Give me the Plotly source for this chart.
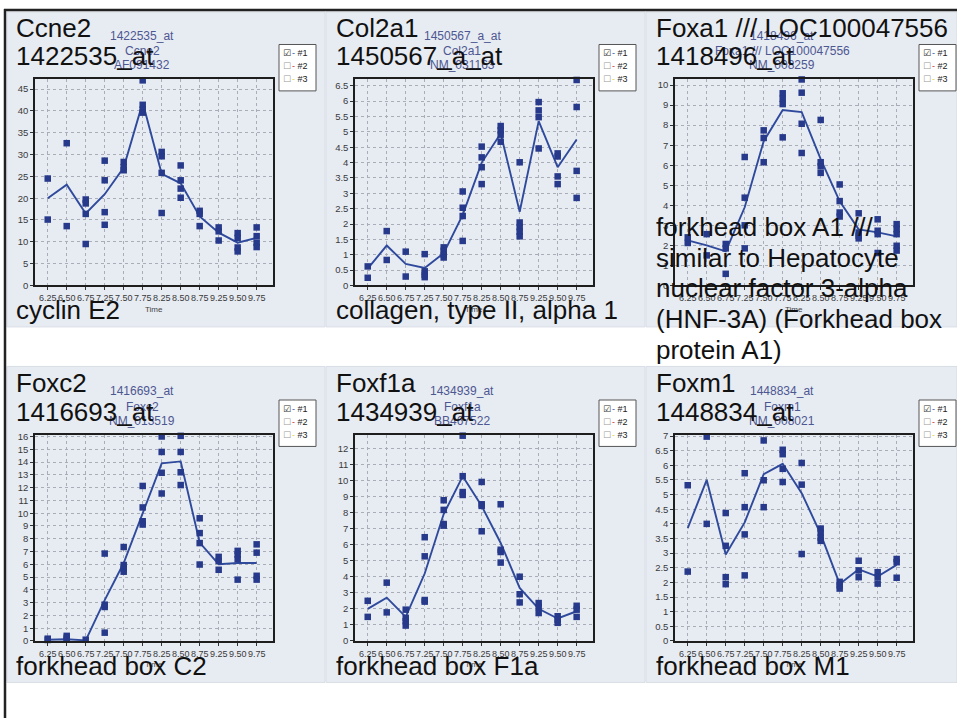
import plotly.graph_objects as go

W, H = 957, 723

times = ["6.25", "6.50", "6.75", "7.25", "7.50", "7.75", "8.25", "8.50", "8.75", "9.25", "9.50", "9.75"]

ccne2_pts = [[24.5, 15.1], [32.6, 13.6], [19.7, 18.8, 16.4, 9.5], [28.6, 24.1, 16.8, 13.9],
             [28.3, 27.1, 26.4], [47.0, 41.4, 40.3, 39.6], [30.6, 29.6, 25.8, 16.6],
             [27.5, 24.1, 22.2, 20.1], [17.1, 16.4, 13.6], [13.3, 12.4, 10.3],
             [12.0, 10.9, 8.7, 7.8], [13.3, 11.3, 9.8, 8.8]]
ccne2_line = [20.0, 23.1, 16.5, 20.9, 27.0, 41.9, 25.6, 23.4, 15.8, 12.1, 9.8, 10.9]

col2a1_pts = [[0.62, 0.25], [1.77, 0.83], [1.1, 0.29], [1.02, 0.46, 0.35, 0.27],
              [1.24, 1.13, 1.0, 0.91], [3.06, 2.53, 2.26, 1.45], [4.52, 4.17, 3.85, 3.3],
              [5.19, 5.05, 4.91, 4.68], [4.01, 2.05, 1.9, 1.75, 1.6], [5.97, 5.7, 5.48, 4.46],
              [4.3, 4.2, 3.55, 3.3], [6.69, 5.81, 3.73, 2.85]]
col2a1_line = [0.55, 1.3, 0.7, 0.57, 1.05, 2.3, 4.0, 4.95, 2.4, 5.35, 3.85, 4.75]

foxa1_pts = [[2.4, 2.12], [2.56, 1.5], [2.07, 1.85, 0.58], [6.41, 4.38, 3.0, 1.85],
             [7.74, 7.36, 6.15], [9.59, 9.32, 9.05, 7.39], [10.28, 9.62, 8.07, 6.61],
             [8.26, 6.15, 5.95, 5.62], [5.04, 4.21, 3.64, 3.44], [3.6, 2.64, 2.48, 2.35],
             [3.3, 2.73, 2.56, 1.62], [3.06, 2.81, 2.56, 1.98, 1.74]]
foxa1_line = [2.25, 2.0, 1.7, 3.9, 7.2, 8.75, 8.65, 6.3, 4.2, 2.8, 2.65, 2.45]

foxc2_pts = [[0.18, 0.08], [0.4, 0.25, 0.1], [0.1], [6.84, 2.84, 2.66, 0.65],
             [7.35, 5.94, 5.68, 5.42], [12.13, 10.45, 9.37, 9.11], [16.0, 14.79, 13.16, 11.54],
             [16.05, 14.79, 13.2, 12.2], [9.6, 8.44, 7.66, 5.98], [6.58, 6.27, 5.57],
             [7.05, 6.75, 6.4, 4.8], [7.56, 6.91, 5.1, 4.8]]
foxc2_line = [0.1, 0.13, 0.05, 3.2, 6.1, 10.0, 13.9, 14.05, 7.7, 6.0, 6.1, 6.1]

foxf1a_pts = [[2.5, 1.5], [3.63, 1.78], [1.95, 1.44, 1.23, 0.96], [6.46, 5.27, 2.55, 2.45],
              [8.76, 8.16, 7.28, 7.18], [12.78, 10.26, 9.27, 9.09], [9.9, 8.51, 8.41, 6.83],
              [8.51, 5.68, 5.54, 4.88], [4.0, 2.91, 2.4], [2.36, 2.11, 1.74],
              [1.54, 1.33, 1.13], [2.19, 1.95, 1.5]]
foxf1a_line = [2.0, 2.7, 1.5, 4.2, 7.9, 10.25, 8.4, 6.1, 3.3, 2.0, 1.4, 1.85]

foxm1_pts = [[5.32, 2.37], [6.98, 4.0], [4.37, 3.25, 2.18, 1.94], [5.73, 4.57, 3.64, 2.24],
             [6.85, 5.49, 4.57], [6.53, 6.38, 5.88, 5.43], [6.08, 5.34, 2.97],
             [3.84, 3.7, 3.53, 3.42], [2.02, 1.9, 1.79], [2.74, 2.41, 2.18],
             [2.35, 2.18, 1.96], [2.8, 2.69, 2.16]]
foxm1_line = [3.85, 5.5, 2.95, 4.05, 5.7, 6.05, 5.05, 3.65, 1.95, 2.45, 2.2, 2.6]

symbols = ["Ccne2", "Col2a1", "Foxa1 /// LOC100047556", "Foxc2", "Foxf1a", "Foxm1"]
probes = ["1422535_at", "1450567_a_at", "1418496_at", "1416693_at", "1434939_at", "1448834_at"]
accessions = ["AF091432", "NM_031163", "NM_008259", "NM_013519", "BB467522", "NM_008021"]
descriptions = [["cyclin E2"], ["collagen, type II, alpha 1"],
                ["forkhead box A1 ///", "similar to Hepatocyte", "nuclear factor 3-alpha",
                 "(HNF-3A) (Forkhead box", "protein A1)"],
                ["forkhead box C2"], ["forkhead box F1a"], ["forkhead box M1"]]
y_max = [47.3, 6.72, 10.3, 16.15, 12.85, 7.05]
y_step = [5, 0.5, 1, 1, 1, 0.5]
legend_items = ["#1", "#2", "#3"]

all_pts = [ccne2_pts, col2a1_pts, foxa1_pts, foxc2_pts, foxf1a_pts, foxm1_pts]
all_line = [ccne2_line, col2a1_line, foxa1_line, foxc2_line, foxf1a_line, foxm1_line]

MARK = "#26398a"
LINE = "#2f4a9c"
BIG = "Liberation Sans, Arial, sans-serif"
SMALL = "Liberation Sans Narrow, Arial Narrow, Liberation Sans, Arial, sans-serif"


def fx(p):
    return p / W


def fy(p):
    return 1 - p / H


fig = go.Figure()
shapes = []
annotations = []
layout_axes = {}

col_x = [(7, 325), (326, 645), (646, 957)]
row_y = [(8, 327), (367, 687)]
for r in range(2):
    for c in range(3):
        shapes.append(dict(type="rect", xref="paper", yref="paper", layer="below",
                           x0=fx(col_x[c][0]), x1=fx(col_x[c][1]),
                           y0=fy(row_y[r][1]), y1=fy(row_y[r][0]),
                           fillcolor="#e7ebf2", line=dict(color="#d9dde5", width=1)))

for i in range(6):
    c, r = i % 3, i // 3
    ox, oy = c * 320, r * 360
    n = "" if i == 0 else str(i + 1)
    xs, ys = [], []
    for t, reps in zip(times, all_pts[i]):
        for v in reps:
            xs.append(t)
            ys.append(v)
    fig.add_trace(go.Scatter(x=times, y=all_line[i], mode="lines",
                             line=dict(color=LINE, width=1.9),
                             xaxis="x" + n, yaxis="y" + n, showlegend=False, hoverinfo="skip"))
    fig.add_trace(go.Scatter(x=xs, y=ys, mode="markers",
                             marker=dict(symbol="square", size=6.5, color=MARK),
                             cliponaxis=False,
                             xaxis="x" + n, yaxis="y" + n, showlegend=False))
    layout_axes["xaxis" + n] = dict(
        domain=[fx(ox + 35), fx(ox + 273)], anchor="y" + n, type="category",
        categoryorder="array", categoryarray=times, range=[-0.67, 11.86],
        tickmode="array", tickvals=times, ticktext=times, tickangle=0,
        showgrid=True, gridcolor="#a9adb8", griddash="dot", gridwidth=1,
        showline=True, linecolor="#1e1e1e", linewidth=1.5, mirror=True,
        ticks="outside", ticklen=3, tickcolor="#333",
        tickfont=dict(family=SMALL, size=9, color="#3a3a3a"), zeroline=False)
    layout_axes["yaxis" + n] = dict(
        domain=[fy(oy + 285), fy(oy + 76)], anchor="x" + n, range=[0, y_max[i]],
        dtick=y_step[i], tick0=0,
        showgrid=True, gridcolor="#a9adb8", griddash="dot", gridwidth=1,
        showline=True, linecolor="#1e1e1e", linewidth=1.5, mirror=True,
        ticks="outside", ticklen=3, tickcolor="#333",
        tickfont=dict(family=SMALL, size=9.5, color="#3a3a3a"), zeroline=False)

    # "Time" axis label
    annotations.append(dict(xref="paper", yref="paper", x=fx(ox + 154), y=fy(oy + 309),
                            text="Time", showarrow=False, xanchor="center", yanchor="middle",
                            font=dict(family=SMALL, size=8, color="#444")))
    # small chart title (blue-grey)
    for k, (txt, yy) in enumerate(zip([probes[i], symbols[i], accessions[i]], [32, 48, 62])):
        annotations.append(dict(xref="paper", yref="paper", x=fx(ox + 142), y=fy(oy + yy),
                                text=txt, showarrow=False, xanchor="center", yanchor="middle",
                                font=dict(family=SMALL, size=12, color="#4d5791")))
    # legend box
    shapes.append(dict(type="rect", xref="paper", yref="paper", layer="above",
                       x0=fx(ox + 279), x1=fx(ox + 316), y0=fy(oy + 88), y1=fy(oy + 41),
                       fillcolor="white", line=dict(color="#555", width=1)))
    dash_colors = ["#3050b0", "#d03030", "#e2d34a"]
    for k, lab in enumerate(legend_items):
        yy = oy + 50 + k * 13
        box = "☑" if k == 0 else "☐"
        annotations.append(dict(xref="paper", yref="paper", x=fx(ox + 281), y=fy(yy),
                                text=box, showarrow=False, xanchor="left", yanchor="middle",
                                font=dict(family="DejaVu Sans", size=9,
                                          color="#333" if k == 0 else "#999")))
        annotations.append(dict(xref="paper", yref="paper", x=fx(ox + 290), y=fy(yy),
                                text="<span style='color:%s'>-</span> %s" % (dash_colors[k], lab),
                                showarrow=False, xanchor="left", yanchor="middle",
                                font=dict(family=SMALL, size=9, color="#222")))

# big black overlay texts (drawn last, on top)
for i in range(6):
    c, r = i % 3, i // 3
    ox, oy = c * 320, r * 360
    for txt, yy in zip([symbols[i], probes[i]], [24, 53]):
        annotations.append(dict(xref="paper", yref="paper", x=fx(ox + 14), y=fy(oy + yy),
                                text=txt, showarrow=False, xanchor="left", yanchor="middle",
                                font=dict(family=BIG, size=26, color="#111")))
    desc = descriptions[i]
    if len(desc) == 1:
        ys_ = [310]
    else:
        ys_ = [226 + 31 * k for k in range(len(desc))]
    for txt, yy in zip(desc, ys_):
        annotations.append(dict(xref="paper", yref="paper", x=fx(ox + 14), y=fy(oy + yy),
                                text=txt, showarrow=False, xanchor="left", yanchor="middle",
                                font=dict(family=BIG, size=26, color="#111")))

# table border (top and left)
shapes.append(dict(type="line", xref="paper", yref="paper", x0=fx(4), x1=1, y0=fy(6), y1=fy(6),
                   line=dict(color="#222", width=2.5), layer="above"))
shapes.append(dict(type="line", xref="paper", yref="paper", x0=fx(5), x1=fx(5), y0=0, y1=fy(5),
                   line=dict(color="#222", width=2.5), layer="above"))

fig.update_layout(width=W, height=H, margin=dict(l=0, r=0, t=0, b=0),
                  paper_bgcolor="white", plot_bgcolor="#eff2f8",
                  shapes=shapes, annotations=annotations, showlegend=False,
                  **layout_axes)

fig.write_html("out.html", config={"displayModeBar": False},
               post_script="document.body.style.margin='0';document.body.style.overflow='hidden';")
